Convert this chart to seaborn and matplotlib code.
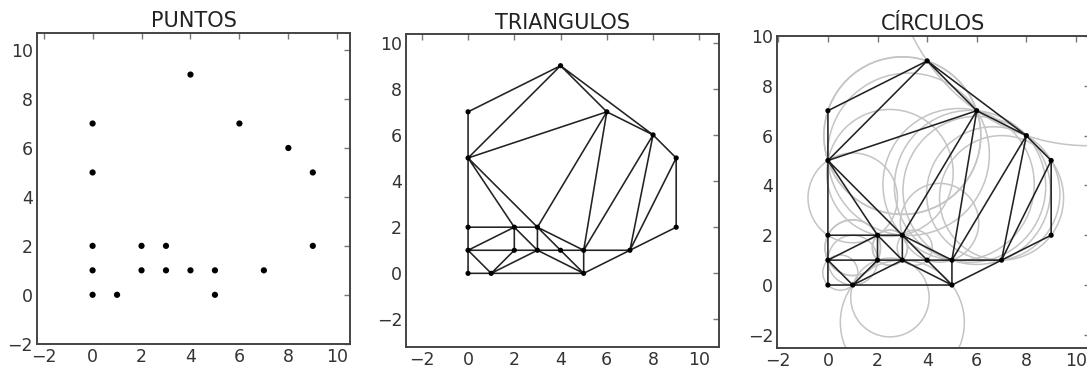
import numpy as np
import pandas as pd
import matplotlib
matplotlib.use("Agg")
import matplotlib.pyplot as plt
import matplotlib.tri as mtri
from matplotlib.patches import Circle
import seaborn as sns

# Point cloud
x_vals = [0, 0, 0, 0, 0, 1, 2, 2, 3, 3, 4, 4, 5, 5, 6, 7, 8, 9, 9]
y_vals = [0, 1, 2, 5, 7, 0, 1, 2, 1, 2, 1, 9, 0, 1, 7, 1, 6, 2, 5]

# Triangles (indices into the point cloud)
triangles = [
    [4, 3, 11], [3, 11, 14], [11, 14, 16], [3, 14, 9], [14, 9, 13],
    [14, 13, 16], [16, 13, 15], [16, 15, 18], [18, 15, 17], [3, 2, 7],
    [3, 7, 9], [2, 1, 7], [1, 6, 7], [7, 6, 8], [7, 8, 9],
    [1, 0, 5], [1, 5, 6], [5, 6, 8], [5, 8, 12], [8, 10, 12],
    [10, 13, 12], [9, 8, 10], [9, 10, 13], [12, 13, 15],
]

# Triangles whose circumscribed circle is drawn in the third panel
circled = [
    [4, 3, 11], [3, 11, 14], [11, 14, 16], [3, 14, 9], [14, 9, 13],
    [14, 13, 16], [16, 13, 15], [16, 15, 18], [18, 15, 17], [3, 2, 7],
    [3, 7, 9], [2, 1, 7], [1, 6, 7], [7, 6, 8], [7, 8, 9],
    [1, 0, 5], [1, 5, 6], [5, 6, 8], [5, 8, 12], [9, 8, 10], [9, 10, 13],
]

titles = ["PUNTOS", "TRIANGULOS", "CÍRCULOS"]
tick_values = [-2, 0, 2, 4, 6, 8, 10]

sns.set_style("white")
plt.rcParams["font.family"] = ["DejaVu Sans"]

df = pd.DataFrame({"x": x_vals, "y": y_vals})
tri = mtri.Triangulation(df["x"].to_numpy(float), df["y"].to_numpy(float),
                         triangles=np.array(triangles))


def circumcircle(p, q, r):
    (ax_, ay), (bx, by), (cx, cy) = p, q, r
    d = 2 * (ax_ * (by - cy) + bx * (cy - ay) + cx * (ay - by))
    ux = ((ax_**2 + ay**2) * (by - cy) + (bx**2 + by**2) * (cy - ay)
          + (cx**2 + cy**2) * (ay - by)) / d
    uy = ((ax_**2 + ay**2) * (cx - bx) + (bx**2 + by**2) * (ax_ - cx)
          + (cx**2 + cy**2) * (bx - ax_)) / d
    return ux, uy, np.hypot(ax_ - ux, ay - uy)


fig = plt.figure(figsize=(10.87, 3.71), dpi=100)
rects = [
    [0.0343, 0.0728, 0.2877, 0.839],
    [0.3738, 0.0655, 0.2874, 0.842],
    [0.7151, 0.0612, 0.2873, 0.8418],
]
limits = [
    ((-2.26, 10.52), (-2.01, 10.71)),
    ((-2.67, 10.84), (-3.18, 10.36)),
    ((-2.04, 10.55), (-2.54, 10.0)),
]

for k, rect in enumerate(rects):
    ax = fig.add_axes(rect)
    if k == 2:
        pts = np.column_stack([x_vals, y_vals]).astype(float)
        for t in circled:
            cx, cy, rad = circumcircle(*pts[t])
            ax.add_patch(Circle((cx, cy), rad, fill=False, ec="#c4c4c4",
                                lw=1.1, zorder=1))
    if k > 0:
        ax.triplot(tri, color="#222222", lw=1.15, zorder=2)
        sns.scatterplot(data=df, x="x", y="y", ax=ax, color="black",
                        s=14, edgecolor="none", zorder=3, legend=False)
    else:
        sns.scatterplot(data=df, x="x", y="y", ax=ax, color="black",
                        s=20, edgecolor="none", zorder=3, legend=False)
    ax.set_xlim(*limits[k][0])
    ax.set_ylim(*limits[k][1])
    ax.set_xticks(tick_values)
    ax.set_yticks(tick_values)
    ax.set_xticklabels(["\u22122" if v < 0 else str(v) for v in tick_values])
    ax.set_yticklabels(["\u22122" if v < 0 else str(v) for v in tick_values])
    ax.set_xlabel("")
    ax.set_ylabel("")
    ax.tick_params(direction="in", top=True, right=True, length=4, width=1,
                   color="#777777", labelsize=12.5, labelcolor="#333333", pad=3)
    for sp in ax.spines.values():
        sp.set_linewidth(1.4)
        sp.set_color("#444444")
    ax.set_title(titles[k], fontsize=15, color="#222222", pad=4)

fig.savefig("out.png", dpi=100)
